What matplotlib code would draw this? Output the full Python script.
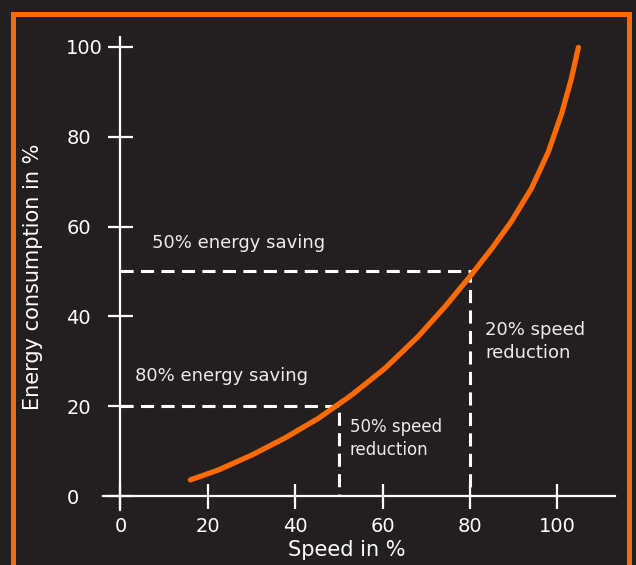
import matplotlib
matplotlib.use("Agg")
import matplotlib.pyplot as plt
from matplotlib.patches import Rectangle

# values
speed = [16, 22.4, 30, 37.6, 45.3, 49.1, 52.9, 60.5, 68.1, 74.3, 80.4, 84.9, 89.5, 94.1, 97.9, 101, 103.2, 104.8]
energy = [3.6, 5.8, 9.1, 12.9, 17.3, 19.9, 22.5, 28.4, 35.5, 42.2, 49.4, 55.0, 61.2, 68.6, 76.6, 85.3, 93.0, 99.9]
ticks = [0, 20, 40, 60, 80, 100]
saving_speed = [80, 50]
saving_energy = [50, 20]
saving_labels = ["50% energy saving", "80% energy saving"]
reduction_labels = ["20% speed\nreduction", "50% speed\nreduction"]

bg = "#231f20"
orange = "#ff6a00"
txt = "#ececec"

plt.rcParams["font.family"] = ["DejaVu Sans"]

fig = plt.figure(figsize=(6.36, 5.65), dpi=100, facecolor=bg)
ax = fig.add_axes([0.0863, 0.0028, 0.8933, 0.938])
ax.set_facecolor(bg)
ax.set_xlim(-15, 115)
ax.set_ylim(-15, 103)

# frame around the whole picture
fig.patches.append(Rectangle((0.0209, -0.05), 0.9684, 1.0261, transform=fig.transFigure,
                             fill=False, edgecolor=orange, linewidth=3.6))

for s in ["top", "right"]:
    ax.spines[s].set_visible(False)
ax.spines["left"].set_position(("data", 0))
ax.spines["bottom"].set_position(("data", 0))
ax.spines["left"].set_bounds(-3, 102.2)
ax.spines["bottom"].set_bounds(-4, 113.2)
for s in ["left", "bottom"]:
    ax.spines[s].set_color("white")
    ax.spines[s].set_linewidth(1.6)

ax.set_xticks(ticks)
ax.set_yticks(ticks)
ax.tick_params(axis="both", direction="inout", length=18, width=1.6, color="white",
               labelcolor="white", labelsize=14)
ax.tick_params(axis="x", pad=6)
ax.tick_params(axis="y", pad=30)
for tl in ax.get_yticklabels():
    tl.set_horizontalalignment("left")

# dashed guides
for sx, sy in zip(saving_speed, saving_energy):
    ax.plot([0, sx, sx], [sy, sy, 0], color="white", linewidth=2.2,
            dashes=(4.3, 2.4), solid_capstyle="butt", zorder=2)

ax.plot(speed, energy, color=orange, linewidth=3.8, solid_capstyle="round",
        solid_joinstyle="round", zorder=3)

ax.text(7.2, 56.3, saving_labels[0], color=txt, fontsize=13, va="center", ha="left")
ax.text(3.3, 26.7, saving_labels[1], color=txt, fontsize=13, va="center", ha="left")
ax.text(83.4, 34.4, reduction_labels[0], color=txt, fontsize=13, va="center", ha="left",
        linespacing=1.3)
ax.text(52.5, 12.8, reduction_labels[1], color=txt, fontsize=12, va="center", ha="left",
        linespacing=1.3)

ax.set_xlabel("Speed in %", color="white", fontsize=15)
ax.set_ylabel("Energy consumption in %", color="white", fontsize=15)
ax.xaxis.set_label_coords(0.513, 0.025)
ax.xaxis.label.set_verticalalignment("center")
ax.yaxis.set_label_coords(-0.039, 0.54)
ax.yaxis.label.set_verticalalignment("center")

fig.savefig("out.png", dpi=100, facecolor=bg)
